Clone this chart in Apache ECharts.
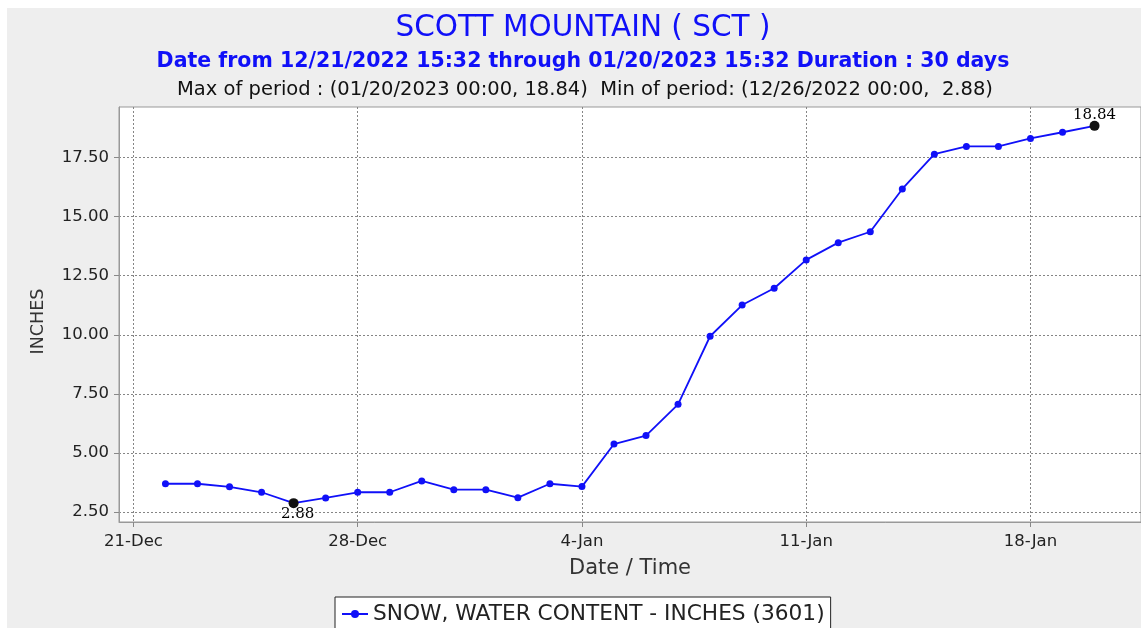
<!DOCTYPE html>
<html>
<head>
<meta charset="utf-8">
<script src="https://cdn.jsdelivr.net/npm/echarts@6/dist/echarts.min.js"></script>
<style>
html,body{margin:0;padding:0;background:#fff;}
#c{width:1141px;height:628px;}
</style>
</head>
<body>
<div id="c"></div>
<script>
// ---- data ----
const dates = [
  '2022-12-22','2022-12-23','2022-12-24','2022-12-25','2022-12-26','2022-12-27','2022-12-28',
  '2022-12-29','2022-12-30','2022-12-31','2023-01-01','2023-01-02','2023-01-03','2023-01-04',
  '2023-01-05','2023-01-06','2023-01-07','2023-01-08','2023-01-09','2023-01-10','2023-01-11',
  '2023-01-12','2023-01-13','2023-01-14','2023-01-15','2023-01-16','2023-01-17','2023-01-18',
  '2023-01-19','2023-01-20'
];
const swe = [
  3.70, 3.70, 3.57, 3.34, 2.88, 3.10, 3.34,
  3.34, 3.82, 3.45, 3.45, 3.11, 3.70, 3.58,
  5.38, 5.74, 7.06, 9.94, 11.26, 11.97, 13.17,
  13.90, 14.36, 16.17, 17.64, 17.97, 17.97, 18.31,
  18.57, 18.84
];
const xTickDates = ['2022-12-21','2022-12-28','2023-01-04','2023-01-11','2023-01-18'];
const yTicks = [2.5, 5, 7.5, 10, 12.5, 15, 17.5];
const seriesName = 'SNOW, WATER CONTENT - INCHES (3601)';
const titleText = 'SCOTT MOUNTAIN ( SCT )';
const subText = 'Date from 12/21/2022 15:32 through 01/20/2023 15:32 Duration : 30 days';
const statText = 'Max of period : (01/20/2023 00:00, 18.84)  Min of period: (12/26/2022 00:00,  2.88)';

// ---- helpers ----
const toTs = s => { const p = s.split('-').map(Number); return Date.UTC(p[0], p[1]-1, p[2]); };
const MON = ['Jan','Feb','Mar','Apr','May','Jun','Jul','Aug','Sep','Oct','Nov','Dec'];
const fmtDate = v => { const d = new Date(Math.round(v)); return d.getUTCDate() + '-' + MON[d.getUTCMonth()]; };

const ts = dates.map(toTs);
const xTicks = xTickDates.map(toTs);
const vMin = Math.min(...swe), vMax = Math.max(...swe);
const iMin = swe.indexOf(vMin), iMax = swe.indexOf(vMax);
const xSpan = ts[ts.length-1] - ts[0];
const xMin = ts[0] - 0.05*xSpan, xMax = ts[ts.length-1] + 0.05*xSpan;
const ySpan = vMax - vMin;
const yMin = vMin - 0.05*ySpan, yMax = vMax + 0.05*ySpan;

const seriesData = ts.map((t, i) => {
  const item = { value: [t, swe[i]] };
  if (i === iMin || i === iMax) {
    item.symbolSize = 10;
    item.itemStyle = { color: '#111' };
    item.label = {
      show: true,
      position: i === iMin ? 'bottom' : 'top',
      distance: -2,
      offset: i === iMin ? [4, 0] : [0, 0],
      formatter: swe[i].toFixed(2),
      color: '#000',
      fontFamily: 'DejaVu Serif',
      fontSize: 15
    };
  }
  return item;
});

const blue = '#1010f8';
const gridColor = '#858585';
const cx = 578;
const chart = echarts.init(document.getElementById('c'), null, { renderer: 'canvas' });
chart.setOption({
  backgroundColor: '#ffffff',
  animation: false,
  graphic: [
    { type: 'rect', z: -100, silent: true, shape: { x: 7, y: 8, width: 1134, height: 620 }, style: { fill: '#eeeeee' } }
  ],
  title: [
    { text: titleText, left: cx, textAlign: 'center', top: 8, textStyle: { color: blue, fontFamily: 'DejaVu Sans', fontSize: 29.5, fontWeight: 'normal' } },
    { text: subText, left: cx, textAlign: 'center', top: 46, textStyle: { color: blue, fontFamily: 'DejaVu Sans', fontSize: 20.5, fontWeight: 'bold' } },
    { text: statText, left: cx + 2, textAlign: 'center', top: 75, textStyle: { color: '#111', fontFamily: 'DejaVu Sans', fontSize: 19.5, fontWeight: 'normal' } }
  ],
  legend: {
    show: true,
    top: 597,
    left: 335,
    padding: [6, 6, 14, 6],
    backgroundColor: '#ffffff',
    borderColor: '#222',
    borderWidth: 1,
    borderRadius: 0,
    itemWidth: 26,
    itemHeight: 10,
    itemGap: 4,
    textStyle: { color: '#222', fontFamily: 'DejaVu Sans', fontSize: 21.7 },
    data: [seriesName]
  },
  grid: {
    left: 119, right: 0, top: 107, bottom: 106,
    show: true, backgroundColor: '#ffffff', borderColor: '#999', borderWidth: 1,
    containLabel: false
  },
  xAxis: {
    type: 'value',
    min: xMin, max: xMax,
    name: 'Date / Time',
    nameLocation: 'middle',
    nameGap: 36,
    nameTextStyle: { color: '#333', fontFamily: 'DejaVu Sans', fontSize: 21 },
    axisLine: { show: true, onZero: false, lineStyle: { color: '#999', width: 1 } },
    axisTick: { show: true, length: 5, lineStyle: { color: '#888' }, customValues: xTicks },
    axisLabel: { color: '#222', fontFamily: 'DejaVu Sans', fontSize: 16.5, margin: 11, customValues: xTicks, formatter: v => fmtDate(v) },
    splitLine: { show: true, lineStyle: { color: gridColor, type: [2, 2], width: 1 } }
  },
  yAxis: {
    type: 'value',
    min: yMin, max: yMax,
    name: 'INCHES',
    nameLocation: 'middle',
    nameRotate: 90,
    nameGap: 72,
    nameTextStyle: { color: '#333', fontFamily: 'DejaVu Sans', fontSize: 17.5, padding: [0, 14, 0, 0] },
    axisLine: { show: true, onZero: false, lineStyle: { color: '#999', width: 1 } },
    axisTick: { show: true, length: 5, lineStyle: { color: '#888' }, customValues: yTicks },
    axisLabel: { color: '#222', fontFamily: 'DejaVu Sans', fontSize: 16.5, margin: 10, customValues: yTicks, formatter: v => Number(v).toFixed(2) },
    splitLine: { show: true, lineStyle: { color: gridColor, type: [2, 2], width: 1 } }
  },
  series: [{
    name: seriesName,
    type: 'line',
    data: seriesData,
    symbol: 'circle',
    symbolSize: 7,
    showSymbol: true,
    lineStyle: { color: blue, width: 1.8 },
    itemStyle: { color: blue },
    z: 3
  }]
});
</script>
</body>
</html>
